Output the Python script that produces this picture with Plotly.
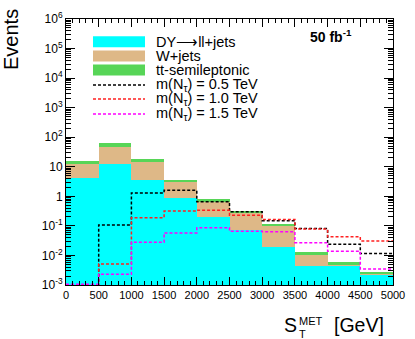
import numpy as np
import plotly.graph_objects as go

# bins of S_T^MET [GeV]
bin_edges = [0, 500, 1000, 1500, 2000, 2500, 3000, 3500, 4000, 4500, 5000]

# backgrounds (events per bin, 50 fb^-1)
dy_jets = [4.2, 12.9, 3.5, 0.91, 0.20, 0.072, 0.019, 0.0045, 0.0045, 0.0022]
w_jets = [8.1, 34.0, 10.8, 2.04, 0.45, 0.208, 0.079, 0.0058, 0.0002, 0.0001]
tt_semilep = [2.8, 19.0, 4.2, 0.65, 0.15, 0.04, 0.017, 0.0027, 0.0012, 0.0005]

# signals
sig_05 = [1e-5, 0.107, 1.3, 1.6, 0.65, 0.30, 0.149, 0.082, 0.024, 0.0117]
sig_10 = [1e-5, 0.0051, 0.19, 0.32, 0.34, 0.23, 0.166, 0.078, 0.043, 0.031]
sig_15 = [0.00105, 0.0023, 0.028, 0.058, 0.087, 0.066, 0.063, 0.027, 0.014, 0.0035]

centers = [(a + b) / 2 for a, b in zip(bin_edges[:-1], bin_edges[1:])]
lvl1 = np.array(dy_jets)
lvl2 = lvl1 + np.array(w_jets)
lvl3 = lvl2 + np.array(tt_semilep)

CYAN, TAN, GREEN = "#00FFFF", "#DEB887", "#57D557"
FONT = "Liberation Sans, Arial, Helvetica, sans-serif"

fig = go.Figure()
for vals, col in [(lvl3, GREEN), (lvl2, TAN), (lvl1, CYAN)]:
    fig.add_trace(go.Bar(x=centers, y=vals, width=500, marker=dict(color=col, line=dict(width=0)),
                         showlegend=False, hoverinfo="skip"))

for vals, col in [(sig_05, "black"), (sig_10, "#FF2020"), (sig_15, "#FF00FF")]:
    fig.add_trace(go.Scatter(x=bin_edges, y=list(vals) + [vals[-1]], mode="lines",
                             line=dict(shape="hv", color=col, width=1.5, dash="3px,2px"),
                             showlegend=False, hoverinfo="skip"))

ytv = [10.0 ** k for k in range(-3, 7)]
ytt = ["10<sup>-3</sup>", "10<sup>-2</sup>", "10<sup>-1</sup>", "1", "10",
       "10<sup>2</sup>", "10<sup>3</sup>", "10<sup>4</sup>", "10<sup>5</sup>", "10<sup>6</sup>"]
yminor = [m * 10.0 ** k for k in range(-3, 6) for m in range(2, 10)]

fig.update_layout(
    width=415, height=339, margin=dict(l=66, r=22, t=19, b=54),
    paper_bgcolor="white", plot_bgcolor="white", barmode="overlay", bargap=0,
    font=dict(family=FONT, color="black"), hovermode=False,
    xaxis=dict(range=[0, 5000], showgrid=False, zeroline=False, showline=True, mirror="allticks",
               linecolor="black", linewidth=1, ticks="inside", ticklen=8, tickcolor="black",
               tickmode="array", tickvals=bin_edges, ticktext=[str(v) for v in bin_edges],
               tickfont=dict(size=11), layer="above traces", automargin=False,
               minor=dict(ticks="inside", ticklen=4, dtick=100, tickcolor="black", showgrid=False)),
    yaxis=dict(type="log", range=[-3, 6], showgrid=False, zeroline=False, showline=True,
               mirror="allticks", linecolor="black", linewidth=1, ticks="inside", ticklen=9,
               tickcolor="black", tickmode="array", tickvals=ytv, ticktext=ytt,
               tickfont=dict(size=12), layer="above traces", automargin=False,
               minor=dict(ticks="inside", ticklen=5, tickvals=yminor, tickcolor="black", showgrid=False)),
)

# legend drawn by hand (ROOT style)
def py(pix):
    return (285 - pix) / 266

def px_(pix):
    return (pix - 66) / 327

def label(x, y, text, size, anchor="left", **kw):
    fig.add_annotation(x=px_(x), y=py(y), xref="paper", yref="paper", text=text, showarrow=False,
                       xanchor=anchor, yanchor="middle", font=dict(size=size, **kw))

entries = [("DY\u27f6ll+jets", "box", CYAN), ("W+jets", "box", TAN), ("tt-semileptonic", "box", GREEN),
           ("m(N<sub>\u03c4</sub>) = 0.5 TeV", "line", "black"),
           ("m(N<sub>\u03c4</sub>) = 1.0 TeV", "line", "#FF2020"),
           ("m(N<sub>\u03c4</sub>) = 1.5 TeV", "line", "#FF00FF")]
ypix = [41.7, 56, 70, 85, 99, 114]
for (text, kind, col), yp in zip(entries, ypix):
    if kind == "box":
        fig.add_shape(type="rect", xref="paper", yref="paper", x0=px_(93), x1=px_(145),
                      y0=py(yp + 5.5), y1=py(yp - 5.5), fillcolor=col, line=dict(width=0))
    else:
        fig.add_shape(type="line", xref="paper", yref="paper", x0=px_(93), x1=px_(145),
                      y0=py(yp), y1=py(yp), line=dict(color=col, width=1.5, dash="3px,2px"))
    label(154, yp, text, 14.5)

label(308, 36, "<b>50 fb<sup>-1</sup></b>", 14)
fig.add_annotation(x=px_(11), y=py(40), xref="paper", yref="paper", text="Events", textangle=-90,
                   showarrow=False, xanchor="center", yanchor="middle",
                   font=dict(size=20, family="Liberation Sans Narrow, " + FONT))

# x title with stacked sub/superscript
label(282, 325, "S", 19.5)
label(297, 321, "MET", 11)
label(297, 334, "T", 11)
label(386, 325, "[GeV]", 19.5, anchor="right")

fig.write_html("out.html", post_script="document.body.style.margin='0';",
               config={"displayModeBar": False})
